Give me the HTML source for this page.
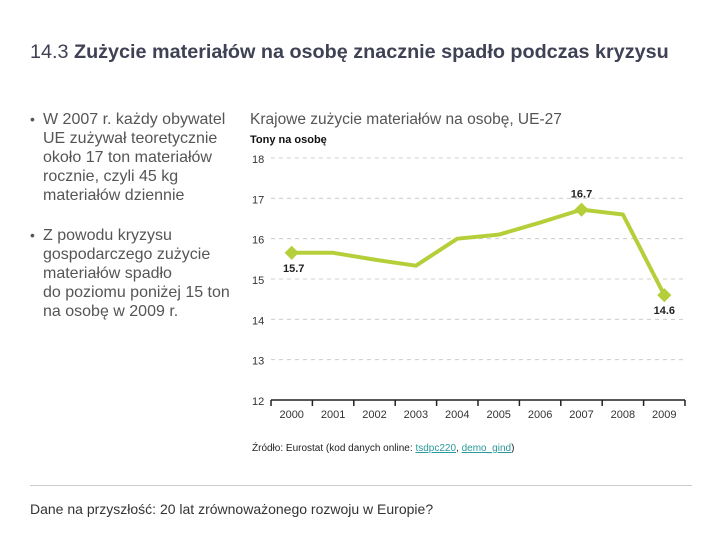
<!DOCTYPE html>
<html><head><meta charset="utf-8"><style>
body{margin:0;width:720px;height:540px;background:#fff;font-family:"Liberation Sans",sans-serif;position:relative;overflow:hidden}
.t{position:absolute;color:#333}
.b{position:absolute;font-size:16px;line-height:19px;color:#555;padding-left:13px;width:210px}
.b .d{position:absolute;left:0;top:0;font-size:14px}
</style></head><body>
<div class="t" style="left:30px;top:41px;font-size:19.8px;color:#3f4155;white-space:nowrap">14.3 <b>Zużycie materiałów na osobę znacznie spadło podczas kryzysu</b></div>
<div class="b" style="left:30px;top:110px"><span class="d">•</span>W 2007 r. każdy obywatel<br>UE zużywał teoretycznie<br>około 17 ton materiałów<br>rocznie, czyli 45 kg<br>materiałów dziennie</div>
<div class="b" style="left:30px;top:226px"><span class="d">•</span>Z powodu kryzysu<br>gospodarczego zużycie<br>materiałów spadło<br>do poziomu poniżej 15 ton<br>na osobę w 2009 r.</div>
<div class="t" style="left:250px;top:111px;font-size:15.5px;color:#555;white-space:nowrap">Krajowe zużycie materiałów na osobę, UE-27</div>
<div class="t" style="left:252px;top:443px;font-size:10px;color:#222">Źródło: Eurostat (kod danych online: <span style="color:#2a9a9a;text-decoration:underline">tsdpc220</span>, <span style="color:#2a9a9a;text-decoration:underline">demo_gind</span>)</div>
<div style="position:absolute;left:30px;top:485px;width:662px;height:1px;background:#ccc"></div>
<div class="t" style="left:30px;top:501px;font-size:14px">Dane na przyszłość: 20 lat zrównoważonego rozwoju w Europie?</div>
<svg id="c" width="720" height="540" style="position:absolute;left:0;top:0"></svg>
<script>
const years=["2000","2001","2002","2003","2004","2005","2006","2007","2008","2009"];
const values=[15.65,15.65,15.48,15.33,16.0,16.1,16.4,16.72,16.6,14.6];
const yTicks=[12,13,14,15,16,17,18];
const markers=[0,7,9];
const markerLabels=["15.7","16.7","14.6"];
const ns="http://www.w3.org/2000/svg",svg=document.getElementById('c');
const x0=271,x1=685,step=(x1-x0)/years.length;
const xs=i=>x0+step*(i+0.5), ys=v=>400-(v-12)*40.33;
function mk(t,a){const e=document.createElementNS(ns,t);for(const k in a)e.setAttribute(k,a[k]);svg.appendChild(e);return e;}
let e=mk('text',{x:250,y:143,'font-size':11,'font-weight':'bold','font-family':'Liberation Sans, sans-serif',fill:'#111'});e.textContent='Tony na osobę';


yTicks.forEach(t=>{
 if(t>12){const g=mk('line',{x1:x0,x2:x1,y1:ys(t),y2:ys(t),stroke:'#ccc','stroke-dasharray':'4 4'});
 
 }
 const l=mk('text',{x:252,y:ys(t)+5,'font-size':11,'font-family':'Liberation Sans, sans-serif',fill:'#333'});l.textContent=t;
 
 
});
e=mk('line',{x1:x0,x2:x1,y1:400,y2:400,stroke:'#222','stroke-width':1.5});


for(let i=0;i<=years.length;i++){const tk=mk('line',{x1:x0+step*i,x2:x0+step*i,y1:400,y2:406,stroke:'#222','stroke-width':1.5});
 
 }
years.forEach((y,i)=>{const l=mk('text',{x:xs(i),y:418,'text-anchor':'middle','font-size':11,'font-family':'Liberation Sans, sans-serif',fill:'#333'});l.textContent=y;
 
 });
e=mk('polyline',{points:values.map((v,i)=>xs(i)+','+ys(v)).join(' '),fill:'none',stroke:'#b5cf3a','stroke-width':4,'stroke-linejoin':'round'});


markers.forEach((i,k)=>{const cx=xs(i),cy=ys(values[i]);
 const d=mk('rect',{x:cx-5,y:cy-5,width:10,height:10,fill:'#b5cf3a',transform:`rotate(45 ${cx} ${cy})`});
 
 
 const above=i===7;
 const l=mk('text',{x:cx+(i===0?2:0),y:above?cy-12:cy+19,'text-anchor':'middle','font-size':11,'font-weight':'bold','font-family':'Liberation Sans, sans-serif',fill:'#222'});l.textContent=markerLabels[k];
 
 
});
</script>
</body></html>
